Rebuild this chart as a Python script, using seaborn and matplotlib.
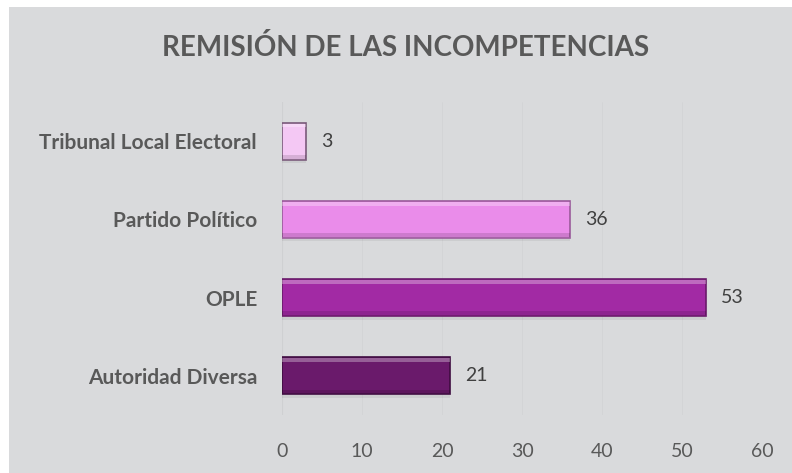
import matplotlib.pyplot as plt
import matplotlib.patches as mpatches
import seaborn as sns
import pandas as pd

categorias = ["Tribunal Local Electoral", "Partido Político", "OPLE", "Autoridad Diversa"]
valores = [3, 36, 53, 21]
colores = ["#f4c8f4", "#ea8cea", "#a22aa4", "#6a1a6b"]
bordes = ["#7a5a7a", "#9a5a9a", "#6a1a6a", "#3f0c40"]
ticks_x = [0, 10, 20, 30, 40, 50, 60]

df = pd.DataFrame({"categoria": categorias, "valor": valores})

sns.set_theme(style="white")
plt.rcParams["font.family"] = ["Lato", "DejaVu Sans"]

fondo = "#d9dadc"
fig = plt.figure(figsize=(7.92, 4.73), dpi=100, facecolor=fondo)
# white margin top/left like the original export
fig.patches.append(mpatches.Rectangle((0, 1 - 7 / 473), 1, 7 / 473, transform=fig.transFigure,
                                      facecolor="white", edgecolor="none", zorder=0))
fig.patches.append(mpatches.Rectangle((0, 0), 9 / 792, 1, transform=fig.transFigure,
                                      facecolor="white", edgecolor="none", zorder=0))

ax = fig.add_axes([282 / 792, 1 - 415 / 473, (762 - 282) / 792, (415 - 102) / 473])
ax.set_facecolor(fondo)

sns.barplot(data=df, y="categoria", x="valor", hue="categoria", palette=colores,
            saturation=1, legend=False, width=0.47, ax=ax, zorder=3)

for bar, borde in zip(ax.patches, bordes):
    bar.set_edgecolor(borde)
    bar.set_linewidth(1.2)

# bevel: light strip on top, darker strip at bottom
for i, v in enumerate(valores):
    ax.barh(i - 0.2, v, height=0.05, color="white", alpha=0.3, zorder=4, edgecolor="none")
    ax.barh(i + 0.2, v, height=0.05, color="black", alpha=0.12, zorder=4, edgecolor="none")
    ax.barh(i + 0.265, v, height=0.03, color="black", alpha=0.06, zorder=2, edgecolor="none")

for i, v in enumerate(valores):
    ax.text(v + 1.9, i, str(v), va="center", ha="left", fontsize=14, color="#404040")

ax.set_xlim(0, 60)
ax.set_ylim(3.5, -0.5)
ax.set_xticks(ticks_x)
ax.set_xlabel("")
ax.set_ylabel("")
ax.xaxis.grid(True, color="#d3d4d6", linewidth=0.6, zorder=0)
ax.tick_params(axis="x", labelsize=14, labelcolor="#595959", length=0, pad=20)
ax.tick_params(axis="y", labelsize=15, labelcolor="#595959", length=0, pad=18)
for lbl in ax.get_yticklabels():
    lbl.set_fontweight("bold")
sns.despine(ax=ax, left=True, bottom=True)
ax.axvline(0, color="#cfd0d2", linewidth=0.8, zorder=1)

fig.text(406 / 792, 1 - 48 / 473, "REMISIÓN DE LAS INCOMPETENCIAS", ha="center", va="center",
         fontsize=20, fontweight="bold", color="#595959")

fig.savefig("out.png", dpi=100, facecolor=fondo)
